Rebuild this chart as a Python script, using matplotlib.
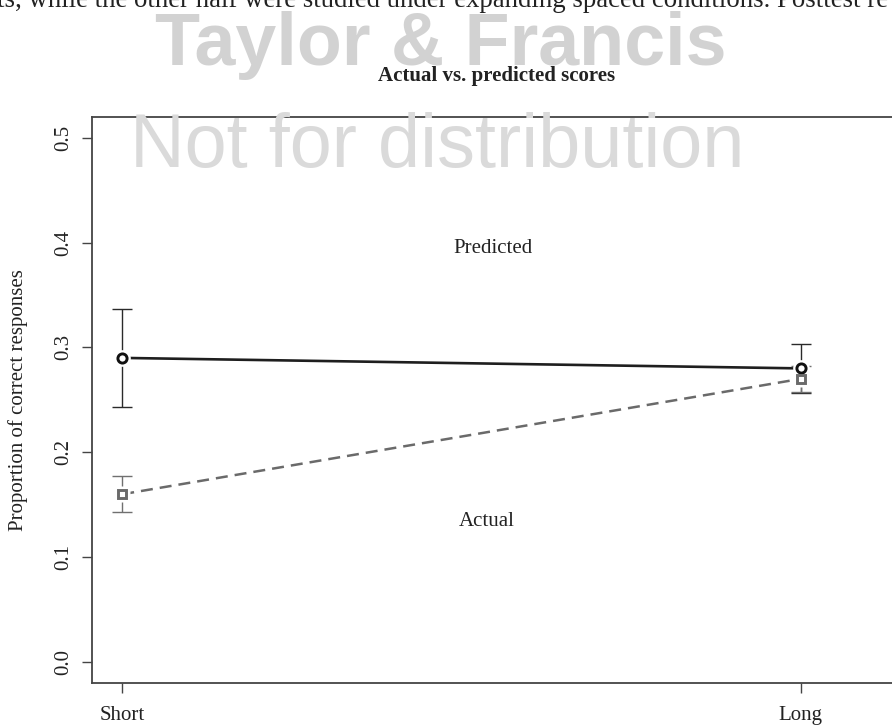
import matplotlib
matplotlib.use("Agg")
import matplotlib.pyplot as plt

# ---- data ----
categories = ["Short", "Long"]
x_pos = [1, 2]
predicted = [0.29, 0.28]
predicted_err = [0.047, 0.0235]
actual = [0.16, 0.27]
actual_err = [0.017, 0.0127]
yticks = [0.0, 0.1, 0.2, 0.3, 0.4, 0.5]
ytick_labels = ["0.0", "0.1", "0.2", "0.3", "0.4", "0.5"]
title = "Actual vs. predicted scores"
ylabel = "Proportion of correct responses"
label_predicted = ("Predicted", 1.546, 0.394)
label_actual = ("Actual", 1.537, 0.134)
top_text = "ts, while the other half were studied under expanding spaced conditions. Posttest re"

plt.rcParams['font.family'] = ['Liberation Serif', 'DejaVu Serif']

fig = plt.figure(figsize=(8.92, 7.25), dpi=100)
W, H = 892, 725

# watermark + cut-off body text (figure level)
fig.text(-3 / W, 1 - 7 / H, top_text, fontsize=19.3, color="#222222",
         ha="left", va="baseline", family=["Liberation Serif"])
fig.text(441 / W, 1 - 65 / H, "Taylor & Francis", fontsize=53, color="#d2d2d2",
         fontweight="bold", ha="center", va="baseline", family=["Liberation Sans"], zorder=0)
fig.text(437 / W, 1 - 167 / H, "Not for distribution", fontsize=54.5, color="#dadada",
         ha="center", va="baseline", family=["Liberation Sans"], zorder=0)

ax_left, ax_right, ax_top, ax_bot = 91.7, 899, 116.7, 683
ax = fig.add_axes([ax_left / W, (H - ax_bot) / H, (ax_right - ax_left) / W, (ax_bot - ax_top) / H])
ax.set_facecolor("none")
ax.set_xlim(0.955, 2.145)
ax.set_ylim(-0.02, 0.52)

spine_c = "#444444"
for s in ax.spines.values():
    s.set_color(spine_c)
    s.set_linewidth(1.3)

# predicted series
ax.errorbar(x_pos, predicted, yerr=predicted_err, fmt="none", ecolor="#2a2a2a",
            elinewidth=1.0, capsize=7, capthick=1.0, zorder=2)
ax.plot(x_pos, predicted, "-", color="#1e1e1e", lw=1.9, zorder=3)
# actual series
ax.errorbar(x_pos, actual, yerr=actual_err, fmt="none", ecolor="#707070",
            elinewidth=1.0, capsize=7, capthick=1.0, zorder=4)
ax.plot(x_pos, actual, color="#6a6a6a", lw=1.8, linestyle=(0, (4.8, 2.8)), zorder=5)

# markers with white halo (type="b" gaps)
ax.plot(x_pos, predicted, "o", ms=12, mfc="white", mec="none", zorder=6)
ax.plot(x_pos, predicted, "o", ms=6.6, mfc="white", mec="#111111", mew=2.1, zorder=7)
ax.plot(x_pos, actual, "s", ms=11, mfc="white", mec="none", zorder=6)
ax.plot(x_pos, actual, "s", ms=6.0, mfc="white", mec="#6a6a6a", mew=2.1, zorder=7)

ax.text(label_predicted[1], label_predicted[2], label_predicted[0], fontsize=15,
        ha="center", va="center", color="#222222")
ax.text(label_actual[1], label_actual[2], label_actual[0], fontsize=15,
        ha="center", va="center", color="#222222")

ax.set_xticks(x_pos)
ax.set_xticklabels(categories, fontsize=15, color="#222222")
ax.set_yticks(yticks)
ax.set_yticklabels(ytick_labels, fontsize=15, color="#222222", rotation=90, va="center")
ax.tick_params(axis="both", length=7.5, width=1.0, color=spine_c)
ax.tick_params(axis="x", pad=9)
ax.tick_params(axis="y", pad=6)

# y label and title as figure texts at measured positions
fig.text(18 / W, 1 - ((ax_top + ax_bot) / 2) / H, ylabel, fontsize=15, color="#222222",
         rotation=90, ha="center", va="center")
fig.text(((ax_left + ax_right) / 2 + 1) / W, 1 - 76 / H, title, fontsize=15,
         fontweight="bold", color="#222222", ha="center", va="center")

fig.savefig("out.png", dpi=100)
